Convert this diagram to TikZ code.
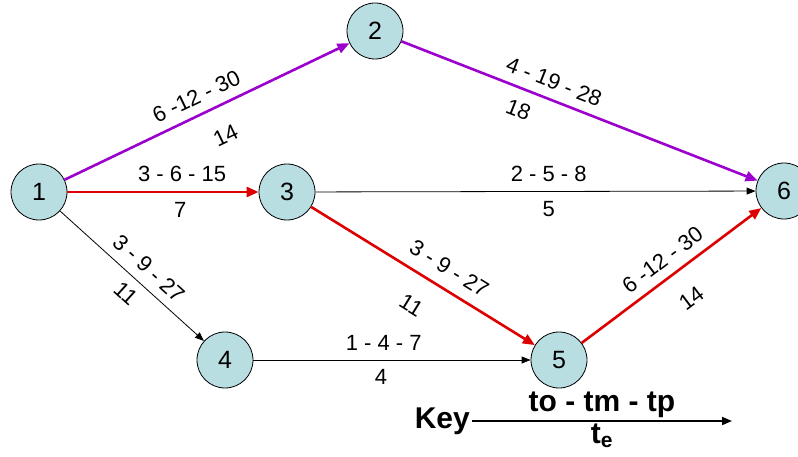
\documentclass[tikz,border=0pt]{standalone}
\usepackage{fontspec}
\setmainfont{Liberation Sans}
\usetikzlibrary{arrows.meta}
\definecolor{ptink}{HTML}{000000}
\definecolor{ptpurple}{HTML}{9B00CC}
\definecolor{ptred}{HTML}{DD0000}
\definecolor{ptfill}{HTML}{B9DEE1}
\tikzset{
  pt event/.style={circle, draw=ptink, line width=0.8pt, fill=ptfill,
    minimum size=56pt, inner sep=0pt, font=\fontsize{25}{29}\selectfont},
  pt arrow/.style={-{Triangle[length=9pt,width=7pt]}, line width=0.8pt, draw=ptink},
  pt crit/.style={-{Triangle[length=12pt,width=10pt]}, line width=2.6pt, draw=ptred},
  pt alt/.style={-{Triangle[length=12pt,width=10pt]}, line width=2.6pt, draw=ptpurple},
  pt times/.style={font=\fontsize{22}{26}\selectfont, sloped, above=7pt, inner sep=2pt},
  pt dur/.style={font=\fontsize{22}{26}\selectfont, sloped, below=7pt, inner sep=2pt},
  pt key/.style={font=\bfseries\fontsize{30}{35}\selectfont, inner sep=2pt},
  pt keyline/.style={-{Triangle[length=10pt,width=8pt]}, line width=1.8pt, draw=ptink}
}
\begin{document}
\begin{tikzpicture}[x=1pt, y=-1pt]
  \useasboundingbox (0,0) rectangle (798,457);
  % events
  \node[pt event] (e1) at (39,192) {1};
  \node[pt event] (e2) at (375,31) {2};
  \node[pt event] (e3) at (287,192) {3};
  \node[pt event] (e4) at (225,360) {4};
  \node[pt event] (e5) at (559,360) {5};
  \node[pt event] (e6) at (784,191) {6};
  % activities
  \draw[pt alt] (e1) -- (e2)
    node[pt times, pos=0.49] {6 -12 - 30} node[pt dur, pos=0.52, below=12pt] {14};
  \draw[pt alt] (e2) -- (e6)
    node[pt times, pos=0.41] {4 - 19 - 28} node[pt dur, pos=0.35, below=3pt] {18};
  \draw[pt crit] (e1) -- (e3)
    node[pt times, pos=0.6] {3 - 6 - 15} node[pt dur, pos=0.59] {7};
  \draw[pt arrow] (e3) -- (e6)
    node[pt times, pos=0.53] {2 - 5 - 8} node[pt dur, pos=0.53] {5};
  \draw[pt arrow] (e1) -- (e4)
    node[pt times, pos=0.54] {3 - 9 - 27} node[pt dur, pos=0.54] {11};
  \draw[pt crit] (e3) -- (e5)
    node[pt times, pos=0.57, above=2pt] {3 - 9 - 27} node[pt dur, pos=0.52, below=13pt] {11};
  \draw[pt arrow] (e4) -- (e5)
    node[pt times, pos=0.47] {1 - 4 - 7} node[pt dur, pos=0.46] {4};
  \draw[pt crit] (e5) -- (e6)
    node[pt times, pos=0.51] {6 -12 - 30} node[pt dur, pos=0.51, below=12pt] {14};
  % key
  \node[pt key, anchor=east] (key) at (472,421) {Key};
  \coordinate (keyend) at (732,421);
  \draw[pt keyline] (key.east) -- (keyend)
    node[pt key, midway, above=0pt] {to - tm - tp}
    node[pt key, midway, below=0pt] {t\textsubscript{e}};
\end{tikzpicture}
\end{document}
